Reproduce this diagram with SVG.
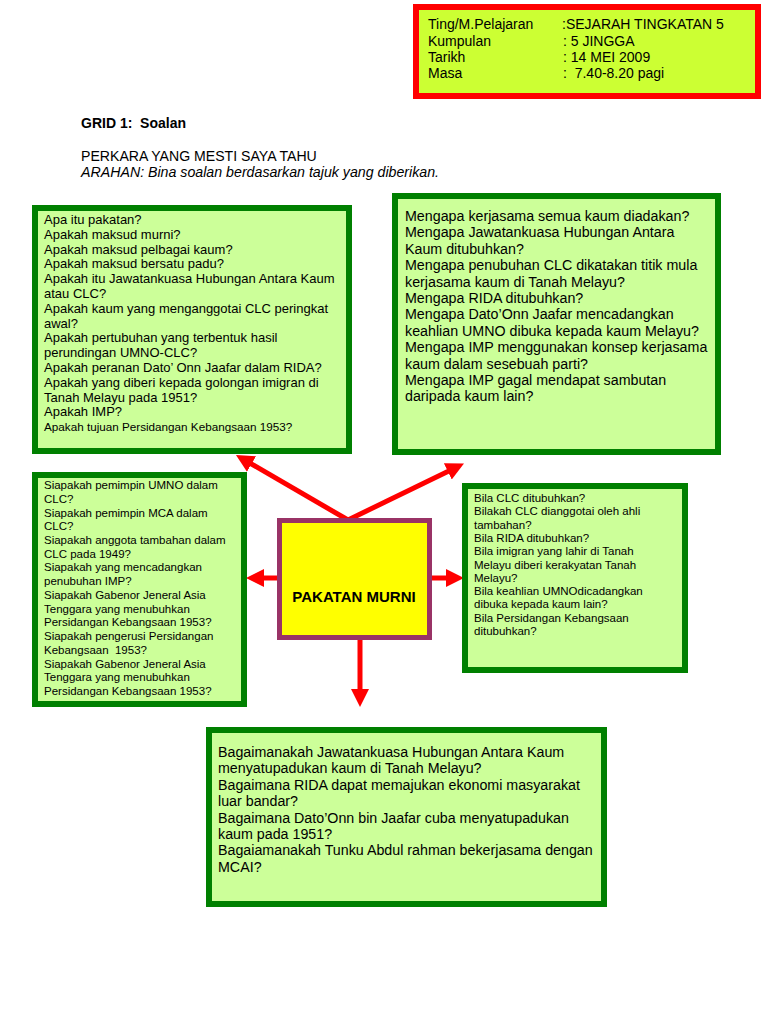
<svg xmlns="http://www.w3.org/2000/svg" width="768" height="1024" viewBox="0 0 768 1024">
<defs>
<style>
text{font-family:"Liberation Sans",Arial,sans-serif;fill:#000}
.box{fill:#ccff99;stroke:#008000;stroke-width:6}
.hdr{font-size:14px}
.t13{font-size:13px}
.t14{font-size:14.25px}
.t11{font-size:11.5px}
.conn{stroke:#ff0000;stroke-width:5;fill:none;marker-end:url(#ah)}
</style>
<marker id="ah" markerUnits="userSpaceOnUse" markerWidth="18" markerHeight="18" viewBox="0 0 18 18" refX="8" refY="9" orient="auto">
<path d="M0,0 L18,9 L0,18 z" fill="#ff0000"/>
</marker>
</defs>
<rect width="768" height="1024" fill="#ffffff"/>

<g id="header">
<rect x="416" y="7" width="342" height="89" fill="#ccff33" stroke="#ff0000" stroke-width="6"/>
<text class="hdr" x="428" y="29">Ting/M.Pelajaran</text>
<text class="hdr" x="562" y="29">:SEJARAH TINGKATAN 5</text>
<text class="hdr" x="428" y="46">Kumpulan</text>
<text class="hdr" x="563" y="46">: 5 JINGGA</text>
<text class="hdr" x="428" y="62">Tarikh</text>
<text class="hdr" x="563" y="62">: 14 MEI 2009</text>
<text class="hdr" x="428" y="78">Masa</text>
<text class="hdr" x="563" y="78" xml:space="preserve">:  7.40-8.20 pagi</text>
</g>

<g id="title">
<text x="81" y="128" font-size="14" font-weight="bold" xml:space="preserve">GRID 1:  Soalan</text>
<text x="81" y="161" font-size="14.1" fill="#222">PERKARA YANG MESTI SAYA TAHU</text>
<text x="81" y="177" font-size="14.2" font-style="italic" fill="#222">ARAHAN: Bina soalan berdasarkan tajuk yang diberikan.</text>
</g>

<g id="connectors">
<line class="conn" x1="348" y1="520" x2="244.6" y2="460"/>
<line class="conn" x1="348" y1="520" x2="455" y2="467.9"/>
<line class="conn" x1="278" y1="578" x2="256" y2="578"/>
<line class="conn" x1="431" y1="578" x2="454" y2="578"/>
<line class="conn" x1="360" y1="639" x2="360" y2="697"/>
</g>

<g id="node-apakah">
<rect class="box" x="35" y="208" width="314" height="243"/>
<text class="t13" x="44" y="224">Apa itu pakatan?</text>
<text class="t13" x="44" y="238.8">Apakah maksud murni?</text>
<text class="t13" x="44" y="253.6">Apakah maksud pelbagai kaum?</text>
<text class="t13" x="44" y="268.4">Apakah maksud bersatu padu?</text>
<text class="t13" x="44" y="283.2">Apakah itu Jawatankuasa Hubungan Antara Kaum</text>
<text class="t13" x="44" y="298">atau CLC?</text>
<text class="t13" x="44" y="312.8">Apakah kaum yang menganggotai CLC peringkat</text>
<text class="t13" x="44" y="327.6">awal?</text>
<text class="t13" x="44" y="342.4">Apakah pertubuhan yang terbentuk hasil</text>
<text class="t13" x="44" y="357.2">perundingan UMNO-CLC?</text>
<text class="t13" x="44" y="372">Apakah peranan Dato’ Onn Jaafar dalam RIDA?</text>
<text class="t13" x="44" y="386.8">Apakah yang diberi kepada golongan imigran di</text>
<text class="t13" x="44" y="401.6">Tanah Melayu pada 1951?</text>
<text class="t13" x="44" y="416.4">Apakah IMP?</text>
<text x="44" y="431.2" font-size="11.7">Apakah tujuan Persidangan Kebangsaan 1953?</text>
</g>

<g id="node-mengapa">
<rect class="box" x="395" y="196" width="323" height="256"/>
<text class="t14" x="405" y="221">Mengapa kerjasama semua kaum diadakan?</text>
<text class="t14" x="405" y="237.4">Mengapa Jawatankuasa Hubungan Antara</text>
<text class="t14" x="405" y="253.8">Kaum ditubuhkan?</text>
<text class="t14" x="405" y="270.2">Mengapa penubuhan CLC dikatakan titik mula</text>
<text class="t14" x="405" y="286.6">kerjasama kaum di Tanah Melayu?</text>
<text class="t14" x="405" y="303">Mengapa RIDA ditubuhkan?</text>
<text class="t14" x="405" y="319.4">Mengapa Dato’Onn Jaafar mencadangkan</text>
<text class="t14" x="405" y="335.8">keahlian UMNO dibuka kepada kaum Melayu?</text>
<text class="t14" x="405" y="352.2">Mengapa IMP menggunakan konsep kerjasama</text>
<text class="t14" x="405" y="368.6">kaum dalam sesebuah parti?</text>
<text class="t14" x="405" y="385">Mengapa IMP gagal mendapat sambutan</text>
<text class="t14" x="405" y="401.4">daripada kaum lain?</text>
</g>

<g id="node-siapakah">
<rect class="box" x="35" y="475" width="209" height="229"/>
<text class="t11" x="44" y="489">Siapakah pemimpin UMNO dalam</text>
<text class="t11" x="44" y="502.7">CLC?</text>
<text class="t11" x="44" y="516.5">Siapakah pemimpin MCA dalam</text>
<text class="t11" x="44" y="530.2">CLC?</text>
<text class="t11" x="44" y="543.9">Siapakah anggota tambahan dalam</text>
<text class="t11" x="44" y="557.7">CLC pada 1949?</text>
<text class="t11" x="44" y="571.4">Siapakah yang mencadangkan</text>
<text class="t11" x="44" y="585.1">penubuhan IMP?</text>
<text class="t11" x="44" y="598.8">Siapakah Gabenor Jeneral Asia</text>
<text class="t11" x="44" y="612.6">Tenggara yang menubuhkan</text>
<text class="t11" x="44" y="626.3">Persidangan Kebangsaan 1953?</text>
<text class="t11" x="44" y="640">Siapakah pengerusi Persidangan</text>
<text class="t11" x="44" y="653.8" xml:space="preserve">Kebangsaan  1953?</text>
<text class="t11" x="44" y="667.5">Siapakah Gabenor Jeneral Asia</text>
<text class="t11" x="44" y="681.2">Tenggara yang menubuhkan</text>
<text class="t11" x="44" y="695">Persidangan Kebangsaan 1953?</text>
</g>

<g id="node-center">
<rect x="279.5" y="520.5" width="150" height="117" fill="#ffff00" stroke="#993366" stroke-width="5"/>
<text x="354" y="602" font-size="15" font-weight="bold" text-anchor="middle">PAKATAN MURNI</text>
</g>

<g id="node-bila">
<rect class="box" x="465" y="486" width="220" height="184"/>
<text class="t11" x="474" y="502">Bila CLC ditubuhkan?</text>
<text class="t11" x="474" y="515.3">Bilakah CLC dianggotai oleh ahli</text>
<text class="t11" x="474" y="528.6">tambahan?</text>
<text class="t11" x="474" y="541.9">Bila RIDA ditubuhkan?</text>
<text class="t11" x="474" y="555.2">Bila imigran yang lahir di Tanah</text>
<text class="t11" x="474" y="568.5">Melayu diberi kerakyatan Tanah</text>
<text class="t11" x="474" y="581.8">Melayu?</text>
<text class="t11" x="474" y="595.1">Bila keahlian UMNOdicadangkan</text>
<text class="t11" x="474" y="608.4">dibuka kepada kaum lain?</text>
<text class="t11" x="474" y="621.7">Bila Persidangan Kebangsaan</text>
<text class="t11" x="474" y="635">ditubuhkan?</text>
</g>

<g id="node-bagaimana">
<rect class="box" x="209" y="730" width="395" height="174"/>
<text class="t14" x="218" y="757">Bagaimanakah Jawatankuasa Hubungan Antara Kaum</text>
<text class="t14" x="218" y="773.4">menyatupadukan kaum di Tanah Melayu?</text>
<text class="t14" x="218" y="789.8">Bagaimana RIDA dapat memajukan ekonomi masyarakat</text>
<text class="t14" x="218" y="806.2">luar bandar?</text>
<text class="t14" x="218" y="822.6">Bagaimana Dato’Onn bin Jaafar cuba menyatupadukan</text>
<text class="t14" x="218" y="839">kaum pada 1951?</text>
<text class="t14" x="218" y="855.4">Bagaiamanakah Tunku Abdul rahman bekerjasama dengan</text>
<text class="t14" x="218" y="871.8">MCAI?</text>
</g>
</svg>
